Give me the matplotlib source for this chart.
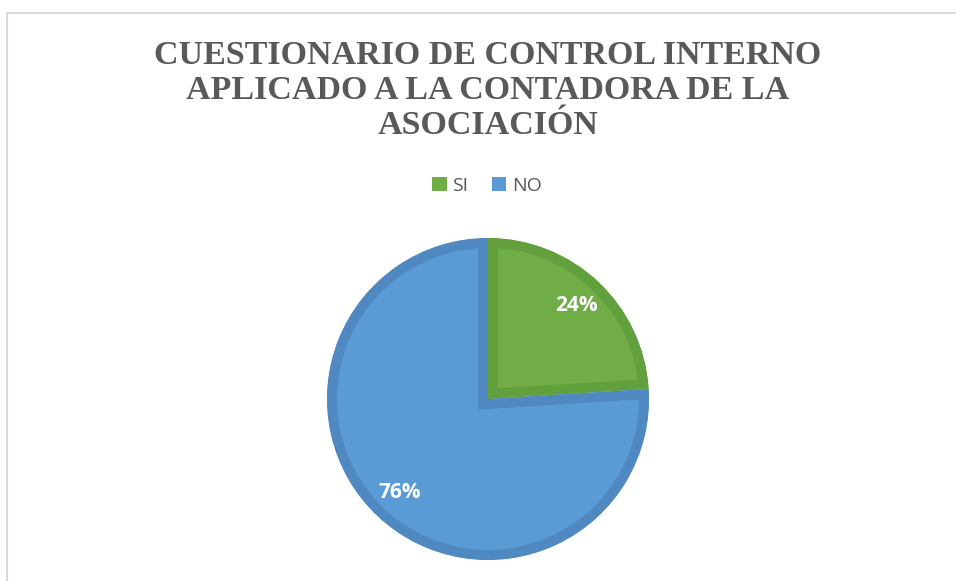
import matplotlib
matplotlib.use("Agg")
import matplotlib.pyplot as plt
from matplotlib.patches import Patch, Rectangle

categories = ["SI", "NO"]
values = [24, 76]
title = "CUESTIONARIO DE CONTROL INTERNO\nAPLICADO A LA CONTADORA DE LA\nASOCIACIÓN"

fills = ["#70AD47", "#5B9BD5"]
edges = ["#62A03D", "#5089C2"]

W, H = 956, 581
fig = plt.figure(figsize=(W / 100, H / 100), dpi=100)
ax = fig.add_axes([0, 0, 1, 1])

# chart frame
fig.patches.append(Rectangle((7 / W, -0.1), 1.2, (H - 13) / H + 0.1, transform=fig.transFigure,
                             fill=False, edgecolor="#D9D9D9", linewidth=1.5))

wedges, texts, autotexts = ax.pie(
    values, colors=fills, startangle=90, counterclock=False,
    center=(488, H - 399), radius=161,
    autopct="%1.0f%%", pctdistance=0.80,
    wedgeprops=dict(linewidth=14.4),
    textprops=dict(color="white", fontsize=15, fontweight="bold", family="Open Sans"),
    frame=True,
)
for w, ec in zip(wedges, edges):
    w.set_edgecolor(ec)
    w.set_joinstyle("miter")
    w.set_clip_on(True)
    w.set_clip_box(None)
    w.set_clip_path(w)
for t in autotexts:
    t.set_zorder(5)
ax.set_xlim(0, W)
ax.set_ylim(0, H)
ax.set_aspect("equal")
ax.axis("off")

fig.text(488 / W, 1 - 40 / H, title, ha="center", va="top", family="Liberation Serif",
         fontweight="bold", fontsize=24.5, color="#595959", linespacing=1.16)

handles = [Patch(facecolor=c, edgecolor="none", label=l) for c, l in zip(fills, categories)]
fig.legend(handles=handles, loc="center", bbox_to_anchor=(487 / W, 1 - 186 / H), ncol=2,
           frameon=False, prop=dict(family="Open Sans", size=14), labelcolor="#595959",
           handlelength=0.75, handleheight=0.75, handletextpad=0.3, columnspacing=1.2)

fig.savefig("out.png", dpi=100, facecolor="white")
